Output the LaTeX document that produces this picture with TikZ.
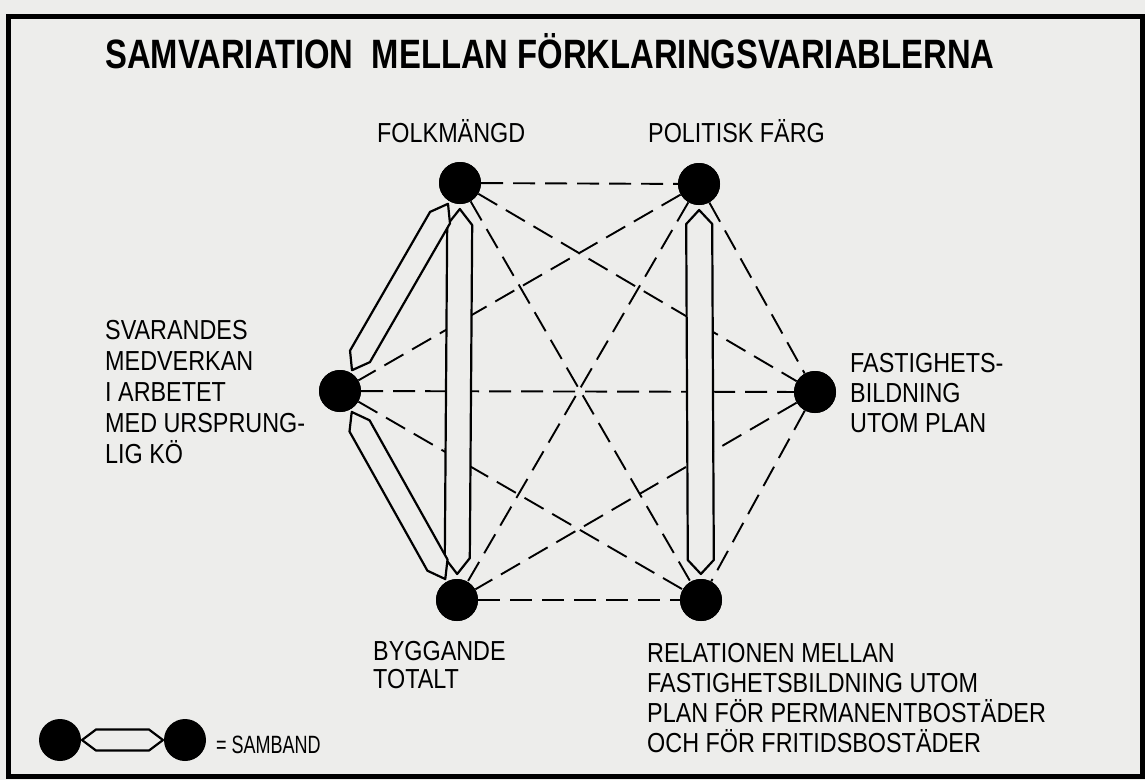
\documentclass[tikz,border=0pt]{standalone}
\usepackage{fontspec}
\setmainfont{Liberation Sans}
\newfontfamily\hand[FakeStretch=0.85]{Liberation Sans}
\newfontfamily\handb[FakeStretch=0.80]{Liberation Sans Bold}
\newfontfamily\handn[FakeStretch=0.72]{Liberation Sans}
\usetikzlibrary{calc}
\definecolor{paper}{RGB}{237,237,235}
\tikzset{
  dot/.style={circle, fill=black, inner sep=0pt, minimum size=42pt},
  dline/.style={line width=1.9pt, dash pattern=on 22pt off 10pt},
  samb/.style={line width=2.2pt, fill=paper, line join=round},
  lbl/.style={font=\hand\fontsize{27.5}{30}\selectfont, align=left, anchor=base west, inner sep=0pt},
  ttl/.style={font=\handb\fontsize{41}{46}\selectfont, anchor=base west, inner sep=0pt},
  frame/.style={line width=5pt},
}
% #1,#2 nodes; #3 tip gap; #4 gap+taper; #5 half width
\newcommand\samband[5]{%
  \draw[samb] ($(#1)!#3!(#2)$)
    -- ($(#1)!#4!(#2)!#5!90:(#2)$)
    -- ($(#2)!#4!(#1)!#5!-90:(#1)$)
    -- ($(#2)!#3!(#1)$)
    -- ($(#2)!#4!(#1)!#5!90:(#1)$)
    -- ($(#1)!#4!(#2)!#5!-90:(#2)$)
    -- cycle;}
\begin{document}
\begin{tikzpicture}[x=1pt,y=-1pt]
  \fill[paper] (0,0) rectangle (1145,780);
  \useasboundingbox (0,0) rectangle (1145,780);
  \draw[frame] (8,16) rectangle (1142,776);

  \node[ttl] (title) at (105,68) {SAMVARIATION\ \ MELLAN FÖRKLARINGSVARIABLERNA};

  % variables
  \node[dot] (F) at (460,183) {};
  \node[dot] (P) at (699,184) {};
  \node[dot] (L) at (340,391) {};
  \node[dot] (R) at (815,392) {};
  \node[dot] (B) at (457,600) {};
  \node[dot] (Q) at (701,600) {};

  % dashed connectors
  \draw[dline] (F) -- (P);
  \draw[dline] (F) -- (R);
  \draw[dline] (F) -- (Q);
  \draw[dline] (P) -- (L);
  \draw[dline] (P) -- (R);
  \draw[dline] (P) -- (B);
  \draw[dline] (L) -- (R);
  \draw[dline] (L) -- (Q);
  \draw[dline] (R) -- (B);
  \draw[dline] (R) -- (Q);
  \draw[dline] (B) -- (Q);

  % samband
  \samband{F}{B}{26pt}{42pt}{12.5pt}
  \samband{P}{Q}{26pt}{40pt}{13pt}
  \samband{L}{F}{24pt}{40pt}{11.5pt}
  \samband{L}{B}{24pt}{40pt}{11.5pt}

  % redraw dots on top
  \foreach \n in {F,P,L,R,B,Q} \fill (\n) circle (21pt);

  % labels (base anchor = baseline of last line)
  \node[lbl] (tF) at (377,142) {FOLKMÄNGD};
  \node[lbl] (tP) at (648,142) {POLITISK FÄRG};
  \node[lbl] (tR) at (850,432) {FASTIGHETS-\\BILDNING\\UTOM PLAN};
  \node[lbl, font=\hand\fontsize{27.5}{31}\selectfont] (tL) at (105,463) {SVARANDES\\MEDVERKAN\\I ARBETET\\MED URSPRUNG-\\LIG KÖ};
  \node[lbl, font=\hand\fontsize{27.5}{28}\selectfont] (tB) at (373,688) {BYGGANDE\\TOTALT};
  \node[lbl] (tQ) at (647,752) {RELATIONEN MELLAN\\FASTIGHETSBILDNING UTOM\\PLAN FÖR PERMANENTBOSTÄDER\\OCH FÖR FRITIDSBOSTÄDER};

  % legend
  \node[dot] (lg1) at (60,740) {};
  \node[dot] (lg2) at (185,740) {};
  \samband{lg1}{lg2}{22pt}{36pt}{10.5pt}
  \node[lbl, font=\handn\fontsize{25}{28}\selectfont] (lgt) at (216,753) {= SAMBAND};
\end{tikzpicture}
\end{document}
